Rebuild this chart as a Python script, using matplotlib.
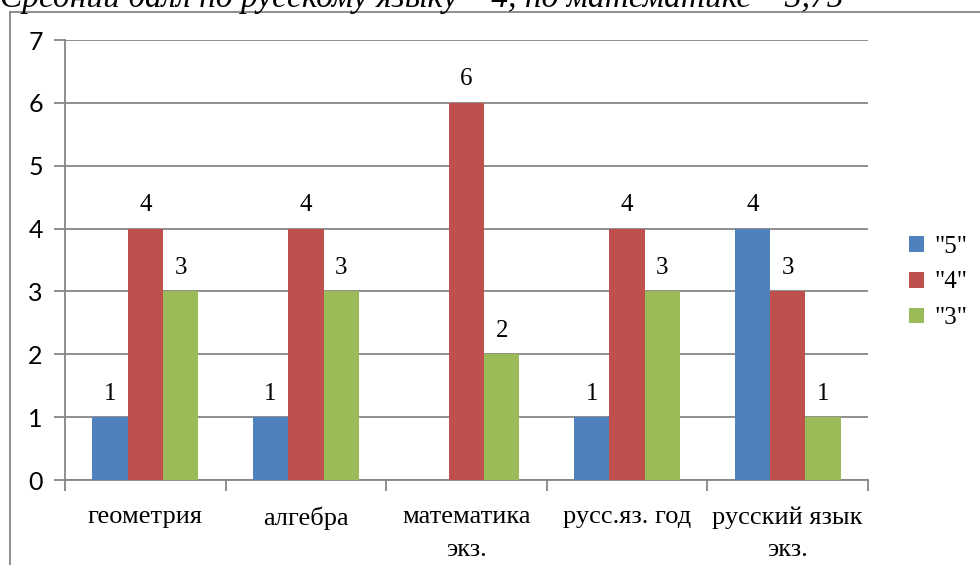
import matplotlib.pyplot as plt
import numpy as np
from matplotlib.lines import Line2D
from matplotlib.font_manager import FontProperties

# data
categories = ["геометрия", "алгебра", "математика\nэкз.", "русс.яз. год", "русский язык\nэкз."]
series_names = ['"5"', '"4"', '"3"']
grade5 = [1, 1, 0, 1, 4]
grade4 = [4, 4, 6, 4, 3]
grade3 = [3, 3, 2, 3, 1]
title = "Средний балл по русскому языку – 4, по математике – 3,75"

colors = ["#4F81BD", "#C0504D", "#9BBB59"]
grid_c = "#868686"
serif = "Liberation Serif"

fig = plt.figure(figsize=(9.8, 5.65), dpi=100)
ax = fig.add_axes([65/980, 1-480/565, (868-65)/980, (480-40)/565])

x = np.arange(len(categories))
w = 0.22
for i, (vals, c, name) in enumerate(zip([grade5, grade4, grade3], colors, series_names)):
    pos = x + (i - 1) * w
    ax.bar(pos, vals, width=w, color=c, label=name, zorder=3)
    for p, v in zip(pos, vals):
        if v > 0:
            ax.text(p, v + 0.2, str(v), ha="center", va="bottom",
                    fontsize=18, family=serif, color="black")

ax.set_xlim(-0.5, 4.5)
ax.set_ylim(0, 7)
ax.set_yticks(range(0, 8))
ax.grid(axis="y", color=grid_c, lw=1.3, zorder=0)
for s in ["top", "right"]:
    ax.spines[s].set_visible(False)
for s in ["left", "bottom"]:
    ax.spines[s].set_color(grid_c)
    ax.spines[s].set_linewidth(1.3)

ax.set_xticks(x)
ax.set_xticklabels(categories, family=serif, fontsize=19, linespacing=1.6)
ax.set_xticks(np.arange(-0.5, 5, 1), minor=True)
ax.tick_params(axis="x", which="major", length=0, pad=19)
ax.tick_params(axis="x", which="minor", length=8, width=1.3, color=grid_c)
ax.tick_params(axis="y", length=8, width=1.3, color=grid_c, labelsize=18, pad=8)
for lab in ax.get_yticklabels():
    lab.set_family("Lato")

leg = fig.legend(loc="center left", bbox_to_anchor=(0.905, 0.5), frameon=False,
                 prop=FontProperties(family=serif, size=18), handlelength=0.6, handleheight=0.6,
                 handletextpad=0.4, labelspacing=0.55)

# chart frame (cut off by image edge)
fig.add_artist(Line2D([10/980, 1], [1-12/565, 1-12/565], color=grid_c, lw=1.3, transform=fig.transFigure))
fig.add_artist(Line2D([10/980, 10/980], [0, 1-12/565], color=grid_c, lw=1.3, transform=fig.transFigure))

fig.text(0.0, 1-7/565, title, ha="left", va="baseline", fontsize=24,
         family=serif, style="italic")

fig.savefig("out.png", dpi=100)
